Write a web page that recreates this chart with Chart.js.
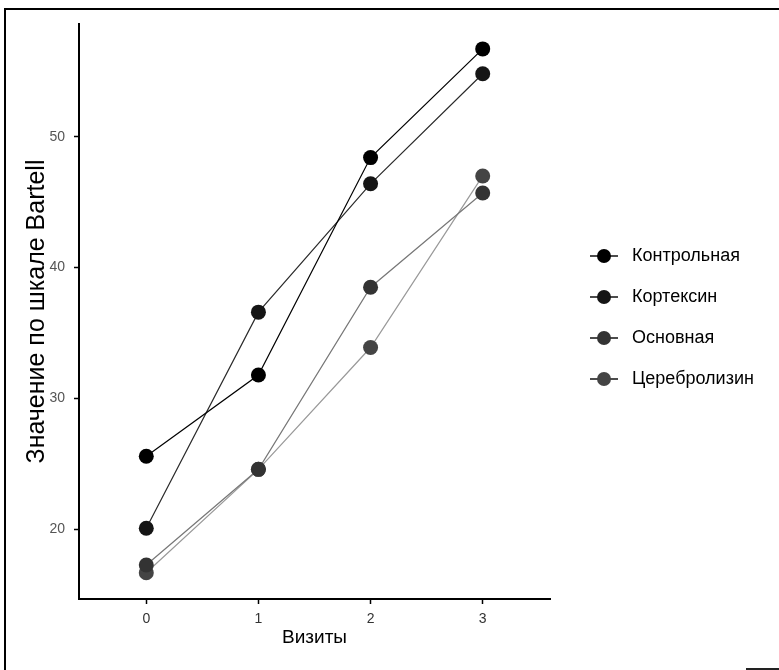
<!DOCTYPE html>
<html>
<head>
<meta charset="utf-8">
<script src="https://cdn.jsdelivr.net/npm/chart.js@4.4.1/dist/chart.umd.min.js"></script>
<style>
  html, body { margin: 0; padding: 0; background: #fff; }
  #wrap { position: relative; width: 779px; height: 670px; overflow: hidden; }
  #frame { position: absolute; left: 4px; top: 8px; right: 0; bottom: 0; border-left: 2px solid #000; border-top: 2px solid #000; }
  #mark { position: absolute; right: 0; bottom: 0; width: 33px; height: 2px; background: #222; }
  canvas { position: absolute; left: 0; top: 0; }
</style>
</head>
<body>
<div id="wrap">
  <div id="frame"></div>
  <div id="mark"></div>
  <canvas id="lineChart" width="779" height="670"></canvas>
</div>
<script>
// Data

const visits = [0, 1, 2, 3];
const groups = ["Контрольная", "Кортексин", "Основная", "Церебролизин"];
const kontrolnaya = [25.6, 31.8, 48.4, 56.7];
const korteksin = [20.1, 36.6, 46.4, 54.8];
const osnovnaya = [17.3, 24.6, 38.5, 45.7];
const cerebrolysin = [16.7, 24.6, 33.9, 47.0];
const yTicks = [20, 30, 40, 50];

const lineColors = ["#000000", "#2a2a2a", "#777777", "#999999"];
const pointColors = ["#000000", "#151515", "#333333", "#444444"];

Chart.defaults.font.family = "'Liberation Sans', Arial, sans-serif";

const toPoints = (values) => visits.map((v, i) => ({ x: v, y: values[i] }));

// Legend on the right: line + dot + label

const sideLegend = {
  id: "sideLegend",
  afterDraw(chart) {
    const ctx = chart.ctx;
    ctx.save();
    chart.data.datasets.forEach((ds, i) => {
      const y = 256 + i * 41;
      ctx.strokeStyle = "#111";
      ctx.lineWidth = 1.5;
      ctx.beginPath();
      ctx.moveTo(590, y);
      ctx.lineTo(618, y);
      ctx.stroke();
      ctx.fillStyle = ds.pointBackgroundColor;
      ctx.beginPath();
      ctx.arc(604, y, 7, 0, Math.PI * 2);
      ctx.fill();
      ctx.fillStyle = "#000";
      ctx.font = "18px 'Liberation Sans', Arial, sans-serif";
      ctx.textBaseline = "middle";
      ctx.fillText(ds.label, 632, y);
    });
    ctx.restore();
  },
};

const lineChart = document.getElementById("lineChart");
const series = [kontrolnaya, korteksin, osnovnaya, cerebrolysin];

new Chart(lineChart, {
  type: "line",
  data: {
    datasets: series.map((values, i) => ({
      label: groups[i],
      data: toPoints(values),
      borderColor: lineColors[i],
      borderWidth: 1.2,
      pointBackgroundColor: pointColors[i],
      pointBorderWidth: 0,
      pointRadius: 7.5,
      pointHoverRadius: 7.5,
      tension: 0,
    })),
  },
  options: {
    responsive: false,
    animation: false,
    layout: { padding: { top: 24, right: 229, left: 0, bottom: 0 } },
    plugins: {
      legend: { display: false },
      tooltip: { enabled: false },
    },
    scales: {
      x: {
        type: "linear",
        min: -0.6,
        max: 3.6,
        afterBuildTicks: (s) => { s.ticks = visits.map((v) => ({ value: v })); },
        afterFit: (s) => { s.height = 71; },
        grid: { drawOnChartArea: false, tickLength: 5, color: "#000", tickWidth: 1.5 },
        border: { color: "#000", width: 2 },
        ticks: { padding: 7, color: "#333", font: { size: 14 } },
        title: {
          display: true,
          text: "Визиты",
          color: "#000",
          font: { size: 19 },
          padding: { top: 0, bottom: 21 },
        },
      },
      y: {
        min: 14.7,
        max: 58.6,
        afterBuildTicks: (s) => { s.ticks = yTicks.map((v) => ({ value: v })); },
        afterFit: (s) => { s.width = 79; },
        grid: { drawOnChartArea: false, tickLength: 5, color: "#000", tickWidth: 1.5 },
        border: { color: "#000", width: 2 },
        ticks: { padding: 9, color: "#555", font: { size: 14 } },
        title: {
          display: true,
          text: "Значение по шкале Bartell",
          color: "#000",
          font: { size: 25 },
          padding: { top: 22, bottom: 0 },
        },
      },
    },
  },
  plugins: [sideLegend],
});
</script>
</body>
</html>
